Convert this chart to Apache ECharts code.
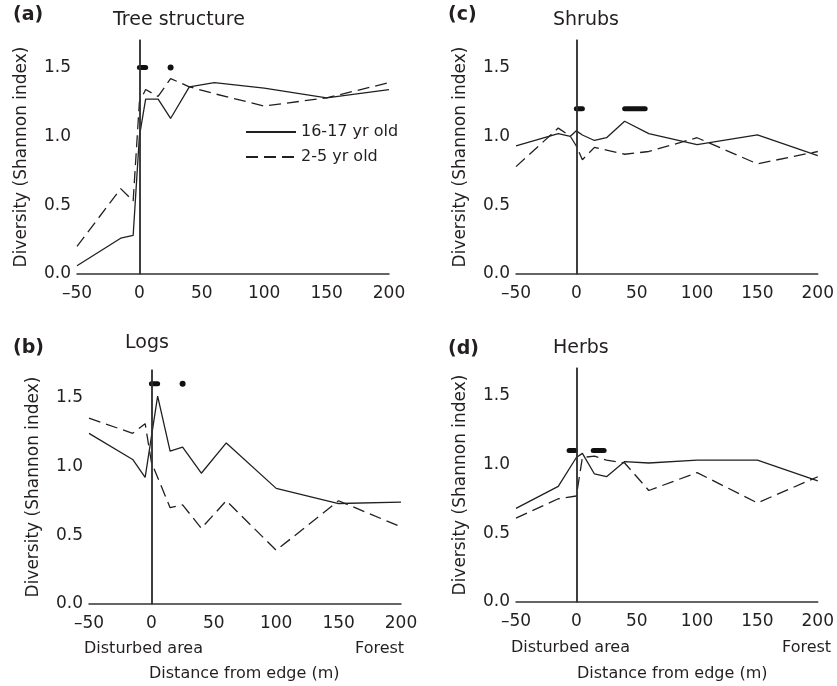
<!DOCTYPE html>
<html>
<head>
<meta charset="utf-8">
<script src="https://cdn.jsdelivr.net/npm/echarts@6/dist/echarts.min.js"></script>
<style>
  html, body { margin: 0; padding: 0; background: #fff; }
  #main { width: 837px; height: 686px; }
</style>
</head>
<body>
<div id="main"></div>
<script>
// distance from edge (m), shared by all four panels
var distances = [-50, -15, -5, 0, 5, 15, 25, 40, 60, 100, 150, 200];

// Shannon diversity, 16-17 yr old edges (solid) and 2-5 yr old edges (dashed)
var treeOld    = [0.06, 0.26, 0.28, 1.00, 1.27, 1.27, 1.13, 1.36, 1.39, 1.35, 1.28, 1.34];
var treeYoung  = [0.20, 0.62, 0.53, 1.25, 1.34, 1.29, 1.42, 1.36, 1.31, 1.22, 1.28, 1.39];
var shrubOld   = [0.93, 1.02, 1.00, 1.04, 1.01, 0.97, 0.99, 1.11, 1.02, 0.94, 1.01, 0.86];
var shrubYoung = [0.78, 1.06, 1.00, 0.93, 0.83, 0.92, 0.90, 0.87, 0.89, 0.99, 0.80, 0.89];
var logOld     = [1.24, 1.05, 0.92, null, 1.51, 1.11, 1.14, 0.95, 1.17, 0.84, 0.73, 0.74];
var logYoung   = [1.35, 1.24, 1.31, 1.03, null, 0.70, 0.72, 0.55, 0.75, 0.39, 0.75, 0.56];
var herbOld    = [0.68, 0.84, null, 1.05, 1.08, 0.93, 0.91, 1.02, 1.01, 1.03, 1.03, 0.88];
var herbYoung  = [0.61, 0.75, null, 0.77, 1.05, 1.06, 1.03, 1.01, 0.81, 0.94, 0.72, 0.91];

// significance marks: bars [from, to] and single dots, drawn at a fixed height
var treeBars = [[0, 5]],  treeDots = [25], treeMarkY = 1.5;
var shrubBars = [[0, 5], [40, 57]], shrubDots = [], shrubMarkY = 1.2;
var logBars = [[0, 5]],   logDots = [25],  logMarkY = 1.6;
var herbBars = [[-6, -1], [14, 23]], herbDots = [], herbMarkY = 1.1;

var yTicks = [0, 0.5, 1.0, 1.5];
var names = ['16-17 yr old', '2-5 yr old'];

var FONT = 'DejaVu Sans';
var INK = '#231f20';

var panels = [
  {old: treeOld,  young: treeYoung,  bars: treeBars,  dots: treeDots,  markY: treeMarkY},
  {old: shrubOld, young: shrubYoung, bars: shrubBars, dots: shrubDots, markY: shrubMarkY},
  {old: logOld,   young: logYoung,   bars: logBars,   dots: logDots,   markY: logMarkY},
  {old: herbOld,  young: herbYoung,  bars: herbBars,  dots: herbDots,  markY: herbMarkY}
];

var grids = [
  {left: 77,  top: 40,  width: 312, height: 234},
  {left: 516, top: 40,  width: 311, height: 234},
  {left: 89,  top: 370, width: 312, height: 234},
  {left: 516, top: 368, width: 311, height: 234}
];

function pairs(vals) {
  var out = [];
  for (var i = 0; i < distances.length; i++) {
    if (vals[i] != null) out.push([distances[i], vals[i]]);
  }
  return out;
}

var xAxes = [], yAxes = [], series = [];
grids.forEach(function (g, i) {
  xAxes.push({
    gridIndex: i, type: 'value', min: -50, max: 200, interval: 50,
    axisLine: {lineStyle: {color: '#333', width: 1.5}},
    axisTick: {show: false}, splitLine: {show: false},
    axisLabel: {
      color: INK, fontFamily: FONT, fontSize: 17, margin: 11,
      formatter: function (v) { return v < 0 ? '\u2013' + Math.abs(v) : String(v); }
    }
  });
  yAxes.push({
    gridIndex: i, type: 'value', min: 0, max: 1.7, interval: 0.5,
    name: 'Diversity (Shannon index)', nameLocation: 'middle', nameGap: 47,
    nameTextStyle: {color: INK, fontFamily: FONT, fontSize: 17},
    axisLine: {show: true, lineStyle: {color: '#333', width: 1.5}},
    axisTick: {show: false}, splitLine: {show: false},
    axisLabel: {
      color: INK, fontFamily: FONT, fontSize: 17, margin: 6,
      formatter: function (v) { return yTicks.indexOf(v) >= 0 ? v.toFixed(1) : ''; }
    }
  });

  var p = panels[i];
  series.push({
    name: names[0], type: 'line', xAxisIndex: i, yAxisIndex: i,
    data: pairs(p.old), symbol: 'none', connectNulls: true,
    itemStyle: {color: INK},
    lineStyle: {color: INK, width: 1.3, type: 'solid'},
    markLine: {
      silent: true, symbol: ['none', 'none'], label: {show: false},
      lineStyle: {color: '#333', width: 1.5, type: 'solid'},
      data: [{xAxis: 0}]
    }
  });
  series.push({
    name: names[1], type: 'line', xAxisIndex: i, yAxisIndex: i,
    data: pairs(p.young), symbol: 'none', connectNulls: true,
    itemStyle: {color: INK},
    lineStyle: {color: INK, width: 1.3, type: [12, 6]}
  });
  p.bars.forEach(function (b) {
    series.push({
      type: 'line', xAxisIndex: i, yAxisIndex: i, symbol: 'none', silent: true,
      data: [[b[0], p.markY], [b[1], p.markY]],
      lineStyle: {color: '#111', width: 5, cap: 'round'}
    });
  });
  if (p.dots.length) {
    series.push({
      type: 'scatter', xAxisIndex: i, yAxisIndex: i, silent: true,
      symbolSize: 6, itemStyle: {color: '#111', opacity: 1},
      data: p.dots.map(function (d) { return [d, p.markY]; })
    });
  }
});

function label(text, left, top, size, bold) {
  return {
    text: text, left: left, top: top, padding: 0,
    textStyle: {color: INK, fontFamily: FONT, fontSize: size, fontWeight: bold ? 'bold' : 'normal'}
  };
}

var titles = [
  label('(a)', 13, 6, 19, true),
  label('Tree structure', 113, 11, 19),
  label('(c)', 448, 6, 19, true),
  label('Shrubs', 553, 11, 19),
  label('(b)', 13, 339, 19, true),
  label('Logs', 125, 334, 19),
  label('(d)', 448, 340, 19, true),
  label('Herbs', 553, 339, 19),
  label('Disturbed area', 84, 641, 16),
  label('Forest', 355, 641, 16),
  label('Distance from edge (m)', 149, 666, 16),
  label('Disturbed area', 511, 640, 16),
  label('Forest', 782, 640, 16),
  label('Distance from edge (m)', 577, 666, 16)
];

var chart = echarts.init(document.getElementById('main'));
chart.setOption({
  animation: false,
  backgroundColor: '#fff',
  title: titles,
  legend: {
    data: names, orient: 'vertical', left: 245, top: 124,
    itemWidth: 50, itemHeight: 14, itemGap: 9, padding: 0,
    itemStyle: {opacity: 0},
    textStyle: {color: INK, fontFamily: FONT, fontSize: 16},
    selectedMode: false
  },
  grid: grids,
  xAxis: xAxes,
  yAxis: yAxes,
  series: series
});
</script>
</body>
</html>
